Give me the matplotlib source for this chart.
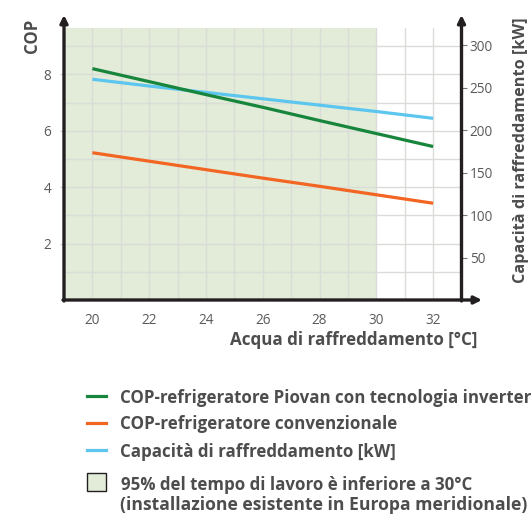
import matplotlib
matplotlib.use("Agg")
import matplotlib.pyplot as plt
from matplotlib.lines import Line2D
from matplotlib.patches import Rectangle, FancyArrowPatch

# ---- data ----
temps = [20, 22, 24, 26, 28, 30, 32]
cop_inverter = [8.20, 7.74, 7.28, 6.83, 6.36, 5.90, 5.44]
cop_conventional = [5.22, 4.92, 4.62, 4.32, 4.03, 3.73, 3.43]
capacity_kw = [260, 252, 244.5, 237, 229.5, 222, 214]
x_ticks = [20, 22, 24, 26, 28, 30, 32]
cop_ticks = [2, 4, 6, 8]
kw_ticks = [50, 100, 150, 200, 250, 300]
shade_limit = 30

labels = ["COP-refrigeratore Piovan con tecnologia inverter",
          "COP-refrigeratore convenzionale",
          "Capacità di raffreddamento [kW]"]
shade_label = ["95% del tempo di lavoro è inferiore a 30°C",
               "(installazione esistente in Europa meridionale)"]

GREEN = "#17853b"
ORANGE = "#f26522"
BLUE = "#5cc6ef"
SHADE = "#e2ecd8"
GRID = "#dadcd8"
DARK = "#231f20"
TXT = "#4d4d4d"
TICK = "#5a5a5a"

W, H = 532, 514
plt.rcParams['font.family'] = ['Open Sans', 'DejaVu Sans']
fig = plt.figure(figsize=(W / 100, H / 100), dpi=100)

def fx(px):
    return px / W

def fy(py):
    return 1 - py / H

L, R, B, T = 64, 461.5, 300, 28.3
ax = fig.add_axes([fx(L), fy(B), fx(R - L), (B - T) / H])
ax.set_xlim(19, 33)
ax.set_ylim(0, 9.63)
ax.axvspan(19, shade_limit, color=SHADE, zorder=0, lw=0)
ax.set_axisbelow(True)
ax.set_xticks(x_ticks)
ax.set_xticks(range(21, 32, 2), minor=True)
ax.set_yticks(cop_ticks)
ax.set_yticks([1, 3, 5, 7, 9], minor=True)
ax.grid(True, which='both', color=GRID, lw=1.0)
ax.tick_params(axis='x', which='both', length=0, pad=9, labelsize=9.8, labelcolor=TICK)
ax.tick_params(axis='y', which='major', length=3, color="#cccccc", width=0.8,
               pad=6, labelsize=9.8, labelcolor=TICK)
ax.tick_params(axis='y', which='minor', length=0)
for s in ax.spines.values():
    s.set_visible(False)

ax.plot(temps, cop_conventional, color=ORANGE, lw=2.3, solid_capstyle='butt', zorder=3)

ax2 = ax.twinx()
ax2.set_ylim(0, 320)
ax2.set_yticks(kw_ticks)
ax2.tick_params(axis='y', length=4, color="#777777", width=0.8, pad=2,
                labelsize=9.8, labelcolor=TICK)
for s in ax2.spines.values():
    s.set_visible(False)
ax2.plot(temps, capacity_kw, color=BLUE, lw=2.3, solid_capstyle='butt', zorder=3)
ax2.plot(temps, [c * 320 / 9.63 for c in cop_inverter], color=GREEN, lw=2.3,
         solid_capstyle='butt', zorder=4)

# axis lines with arrows (figure pixel coords)
def arrow(p0, p1):
    a = FancyArrowPatch((fx(p0[0]), fy(p0[1])), (fx(p1[0]), fy(p1[1])),
                        transform=fig.transFigure, arrowstyle='-|>',
                        mutation_scale=11, lw=2.4, color=DARK, shrinkA=0, shrinkB=0)
    fig.add_artist(a)

arrow((L, B + 1), (L, 15))
arrow((R, B + 1), (R, 15))
arrow((L - 1, B), (482, B))

renderer = fig.canvas.get_renderer()

def fit(t, target):
    w = t.get_window_extent(renderer)
    cur = w.height if t.get_rotation() == 90 else w.width
    t.set_fontsize(t.get_fontsize() * target / cur)

t = fig.text(fx(32), fy(36), "COP", rotation=90, ha='center', va='center',
             fontweight='bold', color=TXT, fontsize=12)
fit(t, 34)
t = fig.text(fx(521), fy(150.5), "Capacità di raffreddamento [kW]", rotation=90,
             ha='center', va='center', fontweight='bold', color=TXT, fontsize=12)
fit(t, 265)
t = fig.text(fx(353.5), fy(340), "Acqua di raffreddamento [°C]", ha='center',
             va='center', fontweight='bold', color=TXT, fontsize=12)
fit(t, 247)

# legend
items = [(GREEN, labels[0], 395.7, 402.7, 410),
         (ORANGE, labels[1], 422.7, 429.3, 276),
         (BLUE, labels[2], 450, 456.7, 274)]
for col, lab, ly, base, wid in items:
    fig.add_artist(Line2D([fx(87), fx(106)], [fy(ly), fy(ly)], color=col, lw=2.3,
                          transform=fig.transFigure))
    t = fig.text(fx(119.5), fy(base), lab, ha='left', va='baseline',
                 fontweight='bold', color=TXT, fontsize=12)
    fit(t, wid)

fig.add_artist(Rectangle((fx(87), fy(491)), fx(19), 18 / H, transform=fig.transFigure,
                         facecolor=SHADE, edgecolor=DARK, lw=1.0))
t = fig.text(fx(121), fy(490), shade_label[0], ha='left', va='baseline',
             fontweight='bold', color=TXT, fontsize=12)
fit(t, 351)
t = fig.text(fx(120), fy(510), shade_label[1], ha='left', va='baseline',
             fontweight='bold', color=TXT, fontsize=12)
fit(t, 407)

fig.savefig("out.png", dpi=100)
